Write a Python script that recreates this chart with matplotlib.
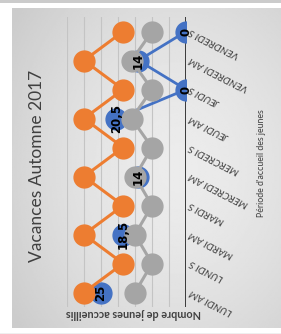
import numpy as np
import matplotlib
matplotlib.use("Agg")
import matplotlib.pyplot as plt

categories = ["LUNDI AM", "LUNDI S", "MARDI AM", "MARDI S", "MERCREDI AM",
              "MERCREDI S", "JEUDI AM", "JEUDI S", "VENDREDI AM", "VENDREDI S"]
orange_vals = [30, 18.5, 30, 18.5, 30, 18.5, 30, 18.5, 30, 18.5]
gray_vals = [15, 10, 15, 10, 15, 10, 16, 10, 16, 10]
blue_vals = [25, np.nan, 18.5, np.nan, 14, np.nan, 20.5, 0, 14, 0]

title = "Vacances Automne 2017"
xlabel = "Période d'accueil des jeunes"
ylabel = "Nombre de jeunes accueillis"

W, H = 281, 334
fig = plt.figure(figsize=(W / 100, H / 100), dpi=100)
fig.patch.set_facecolor("white")

# top strip & bottom faint line
fig.add_artist(plt.Rectangle((0, 1 - 2.5 / H), 1, 2.5 / H, transform=fig.transFigure,
                             color="#cbcbcb", lw=0))
fig.add_artist(plt.Rectangle((0, 0), 1, 1.2 / H, transform=fig.transFigure,
                             color="#efefef", lw=0))

# gradient background box
bg = fig.add_axes([12 / W, (H - 328) / H, (W - 12) / W, 320 / H])
yy, xx = np.mgrid[0:1:200j, 0:1:200j]
r = np.sqrt(((xx - 0.62) / 0.75) ** 2 + ((yy - 0.5) / 0.8) ** 2)
r = np.clip(r, 0, 1)
light, dark = 0.925, 0.80
img = light - (light - dark) * r ** 1.6
bg.imshow(img, cmap="gray", vmin=0, vmax=1, aspect="auto", extent=[0, 1, 0, 1])
bg.axis("off")

ax = fig.add_axes([67 / W, (H - 307) / H, (186 - 67) / W, 290 / H])
ax.set_xlim(35, 0)
ax.set_ylim(-0.5, 9.5)
ax.patch.set_visible(False)
for s in ax.spines.values():
    s.set_visible(False)
ax.set_xticks(range(5, 36, 5))
ax.set_yticks([])
ax.tick_params(length=0, labelbottom=False)
ax.grid(axis="x", color="#c4c4c4", lw=0.8)
ax.axvline(0, color="#3a3a3a", lw=1.4, zorder=1.5)

idx = np.arange(len(categories))
ax.plot(blue_vals, idx, color="#4472C4", lw=2.0, marker="o", ms=15,
        mec="#4472C4", zorder=2)
ax.plot(gray_vals, idx, color="#A5A5A5", lw=2.2, marker="o", ms=15,
        mec="#A5A5A5", zorder=3)
ax.plot(orange_vals, idx, color="#ED7D31", lw=2.2, marker="o", ms=15,
        mec="#ED7D31", zorder=4)

for i, v in enumerate(blue_vals):
    if not np.isnan(v):
        ax.text(v, i, f"{v:g}".replace(".", ","), rotation=90, ha="center",
                va="center", fontsize=8.5, fontweight="bold", color="black",
                zorder=6)

for i, c in enumerate(categories):
    ax.text(-1.2, i + 0.05, c, rotation=153, rotation_mode="anchor", ha="right",
            va="center", fontsize=7.3, style="italic", color="#404040",
            family="Lato")

fig.text(37 / W, 1 - 166 / H, title, rotation=90, ha="center", va="center",
         fontsize=12.5, color="#404040", family="Lato")
fig.text(262 / W, 1 - 163 / H, xlabel, rotation=90, ha="center", va="center",
         fontsize=6.3, color="#404040", family="Lato")
fig.text(133 / W, 1 - 313 / H, ylabel, rotation=180, ha="center", va="center",
         fontsize=7.8, color="#404040", family="Lato", fontweight="bold")

fig.savefig("out.png", dpi=100)
